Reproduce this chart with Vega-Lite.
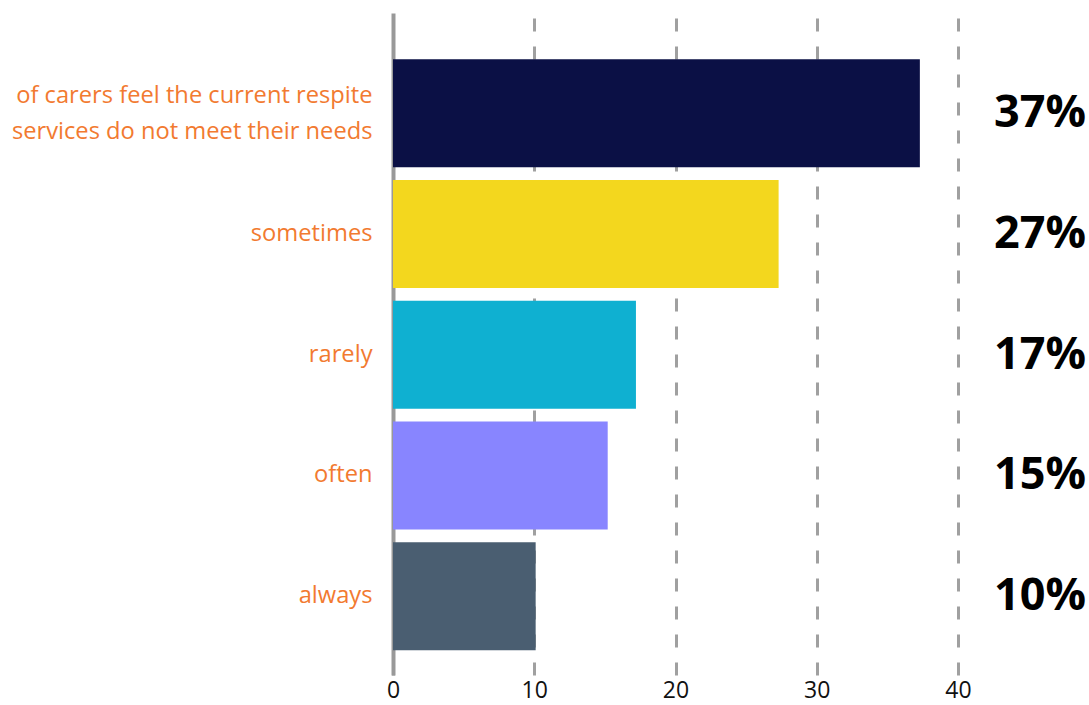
{
  "$schema": "https://vega.github.io/schema/vega-lite/v6.json",
  "autosize": "none",
  "width": 565,
  "height": 662,
  "padding": {"left": 393, "top": 13, "right": 131, "bottom": 30},
  "data": {
    "values": [
      {"category": "of carers feel the current respite|services do not meet their needs", "value": 37.3, "pct": "37%"},
      {"category": "sometimes", "value": 27.3, "pct": "27%"},
      {"category": "rarely", "value": 17.2, "pct": "17%"},
      {"category": "often", "value": 15.2, "pct": "15%"},
      {"category": "always", "value": 10.1, "pct": "10%"}
    ]
  },
  "encoding": {
    "y": {
      "field": "category",
      "type": "nominal",
      "sort": null,
      "scale": {"paddingInner": 0.1056, "paddingOuter": 0.294, "align": 0.65},
      "axis": {
        "title": null,
        "ticks": false,
        "domain": true,
        "domainColor": "#999999",
        "domainWidth": 4,
        "labelColor": "#f27a30",
        "labelFont": "Open Sans",
        "labelFontSize": 23.7,
        "labelPadding": 21,
        "labelLimit": 400,
        "labelLineHeight": 36,
        "labelOffset": {"expr": "indexof(datum.value, '|') >= 0 ? -17 : 0"},
        "labelExpr": "split(datum.value, '|')"
      }
    }
  },
  "layer": [
    {
      "mark": {"type": "bar"},
      "encoding": {
        "x": {
          "field": "value",
          "type": "quantitative",
          "scale": {"domain": [0, 40], "nice": false},
          "axis": {
            "title": null,
            "values": [0, 10, 20, 30, 40],
            "domain": false,
            "ticks": false,
            "grid": true,
            "gridColor": "#a0a0a0",
            "gridWidth": 3,
            "gridDash": [13, 15],
            "labelFont": "Open Sans",
            "labelFontSize": 23,
            "labelColor": "#111111",
            "labelPadding": 4,
            "labelFlush": false
          }
        },
        "color": {
          "field": "category",
          "type": "nominal",
          "sort": null,
          "legend": null,
          "scale": {"range": ["#0b1045", "#f3d71e", "#0fb0d1", "#8885ff", "#4a5e71"]}
        }
      }
    },
    {
      "mark": {"type": "text", "align": "right", "baseline": "middle", "dx": 128, "font": "Open Sans", "fontWeight": "bold", "fontSize": 45, "color": "#000000"},
      "encoding": {
        "x": {"datum": 40, "type": "quantitative"},
        "text": {"field": "pct", "type": "nominal"}
      }
    }
  ],
  "config": {"view": {"stroke": null}}
}
